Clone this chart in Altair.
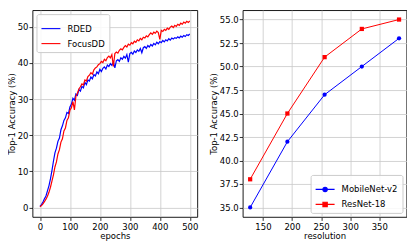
import altair as alt
import pandas as pd

# ---------------- data ----------------
epochs = list(range(0, 505, 5))

rded = [0.3, 0.8, 1.5, 2.4, 3.2, 4.6, 6.0, 7.9, 10.2, 12.8,
        15.1, 16.4, 18.3, 19.2, 21.5, 22.6, 24.1, 24.8, 26.3, 26.0,
        27.8, 28.6, 30.2, 29.7, 31.4, 31.0, 32.6, 32.2, 33.5, 33.1,
        34.6, 34.0, 35.3, 35.0, 36.1, 35.6, 36.8, 36.4, 37.5, 37.0,
        38.2, 37.6, 38.5, 38.9, 38.3, 39.4, 39.0, 39.8, 39.3, 40.3,
        38.6, 40.6, 40.9, 40.4, 41.4, 41.0, 41.8, 41.3, 42.3, 40.2,
        42.6, 42.9, 42.4, 43.3, 42.9, 43.6, 43.2, 44.0, 42.8, 44.2,
        44.5, 44.0, 44.8, 44.4, 45.1, 44.7, 45.4, 45.0, 45.7, 45.3,
        45.9, 45.6, 46.2, 45.8, 46.4, 46.1, 46.7, 46.3, 46.9, 46.6,
        47.0, 46.8, 47.2, 46.9, 47.4, 47.1, 47.6, 47.3, 47.8, 47.6,
        48.0]

focusdd = [0.2, 0.5, 1.0, 1.6, 2.3, 3.1, 4.2, 5.6, 7.3, 9.0,
           11.2, 12.6, 14.8, 16.0, 18.1, 19.0, 21.2, 22.0, 24.1, 24.8,
           26.9, 27.6, 29.3, 27.0, 30.8, 31.6, 32.8, 33.4, 34.2, 33.9,
           35.3, 35.0, 36.2, 36.6, 37.3, 36.9, 38.1, 38.6, 38.9, 39.5,
           39.8, 40.4, 40.1, 41.0, 40.6, 41.5, 41.9, 41.4, 42.3, 39.0,
           42.6, 43.0, 42.7, 43.5, 43.9, 43.6, 44.3, 44.8, 44.4, 45.2,
           44.9, 45.6, 45.3, 46.0, 45.7, 46.4, 46.1, 46.8, 46.4, 47.1,
           46.9, 47.5, 47.2, 47.8, 48.3, 47.9, 48.5, 48.2, 48.8, 48.4,
           46.5, 49.0, 48.7, 49.3, 49.0, 49.6, 49.3, 49.9, 50.2, 49.8,
           50.4, 50.1, 50.7, 50.4, 51.0, 50.7, 51.3, 51.0, 51.5, 51.2,
           51.6]

resolution = [128, 192, 256, 320, 384]
mobilenet = [35.0, 42.0, 47.0, 50.0, 53.0]
resnet = [38.0, 45.0, 51.0, 54.0, 55.0]

left_series = ["RDED", "FocusDD"]
right_series = ["MobileNet-v2", "ResNet-18"]
left_colors = ["#0000ff", "#ff0000"]
right_colors = ["#0000ff", "#ff0000"]

# ---------------- tables ----------------
df_left = pd.concat([
    pd.DataFrame({"epochs": epochs, "acc": rded, "series": "RDED"}),
    pd.DataFrame({"epochs": epochs, "acc": focusdd, "series": "FocusDD"}),
])
df_right = pd.concat([
    pd.DataFrame({"resolution": resolution, "acc": mobilenet, "series": "MobileNet-v2"}),
    pd.DataFrame({"resolution": resolution, "acc": resnet, "series": "ResNet-18"}),
])

FONT = "DejaVu Sans"
FS = 8.5

legend_common = dict(
    title=None,
    labelFont=FONT,
    labelFontSize=FS,
    labelColor="black",
    strokeColor="#cccccc",
    fillColor="rgba(255,255,255,0.85)",
    cornerRadius=2,
    padding=4,
    labelOffset=6,
    symbolSize=361,
    symbolStrokeWidth=1.1,
)

left_chart = alt.Chart(df_left).mark_line(strokeWidth=1.2, clip=True).encode(
    x=alt.X("epochs:Q", title="epochs",
            scale=alt.Scale(domain=[-25, 525], nice=False, zero=False),
            axis=alt.Axis(values=[0, 100, 200, 300, 400, 500])),
    y=alt.Y("acc:Q", title="Top-1 Accuracy (%)",
            scale=alt.Scale(domain=[-2.6, 54.6], nice=False, zero=False),
            axis=alt.Axis(values=[0, 10, 20, 30, 40, 50], labelPadding=1)),
    color=alt.Color("series:N",
                    scale=alt.Scale(domain=left_series, range=left_colors),
                    legend=alt.Legend(orient="top-left", offset=4, rowPadding=0,
                                      symbolType="stroke", **legend_common)),
    detail="series:N",
).properties(width=165, height=207)

circ = "M-1,0L1,0M0.23,0A0.23,0.23,0,1,1,-0.23,0A0.23,0.23,0,1,1,0.23,0Z"
sq = "M-1,0L1,0M-0.23,-0.23L0.23,-0.23L0.23,0.23L-0.23,0.23Z"

rx = alt.X("resolution:Q", title="resolution",
           scale=alt.Scale(domain=[115.2, 396.8], nice=False, zero=False),
           axis=alt.Axis(values=[150, 200, 250, 300, 350]))
ry = alt.Y("acc:Q", title="Top-1 Accuracy (%)",
           scale=alt.Scale(domain=[34, 56], nice=False, zero=False),
           axis=alt.Axis(values=[35, 37.5, 40, 42.5, 45, 47.5, 50, 52.5, 55],
                         format=".1f", labelPadding=1))
rscale = alt.Scale(domain=right_series, range=right_colors)

r_line = alt.Chart(df_right).mark_line(strokeWidth=1.0).encode(
    x=rx, y=ry,
    color=alt.Color("series:N", scale=rscale,
                    legend=alt.Legend(
                        orient="bottom-right", offset=4, rowPadding=-5, **legend_common,
                        symbolType={"expr": f"datum.value === 'MobileNet-v2' ? '{circ}' : '{sq}'"},
                        symbolStrokeColor={"expr": "datum.value === 'MobileNet-v2' ? '#0000ff' : '#ff0000'"},
                        symbolFillColor={"expr": "datum.value === 'MobileNet-v2' ? '#0000ff' : '#ff0000'"},
                    )))
r_circ = alt.Chart(df_right).transform_filter(
    alt.datum.series == right_series[0]
).mark_point(filled=True, opacity=1, size=18, shape="circle").encode(
    x=rx, y=ry, color=alt.Color("series:N", scale=rscale, legend=None))
r_sq = alt.Chart(df_right).transform_filter(
    alt.datum.series == right_series[1]
).mark_point(filled=True, opacity=1, size=18, shape="square").encode(
    x=rx, y=ry, color=alt.Color("series:N", scale=rscale, legend=None))
right_chart = alt.layer(r_line, r_circ, r_sq).properties(width=164, height=207)

chart = alt.hconcat(left_chart, right_chart, spacing=9.5).resolve_scale(
    color="independent"
).resolve_legend(color="independent").configure(
    padding={"left": -1.5, "top": 1, "right": 0, "bottom": 0},
    background="white",
).configure_view(
    stroke="black", strokeWidth=0.9
).configure_axis(
    domain=False,
    grid=True, gridColor="#c8c8c8", gridWidth=0.8,
    ticks=True, tickColor="black", tickSize=3.5, tickWidth=0.8,
    labelFont=FONT, labelFontSize=FS, labelColor="black", labelPadding=2,
    titleFont=FONT, titleFontSize=FS, titleColor="black", titleFontWeight="normal",
    titlePadding=1,
)

chart.save("out.html", embed_options={"renderer": "svg", "actions": False})
